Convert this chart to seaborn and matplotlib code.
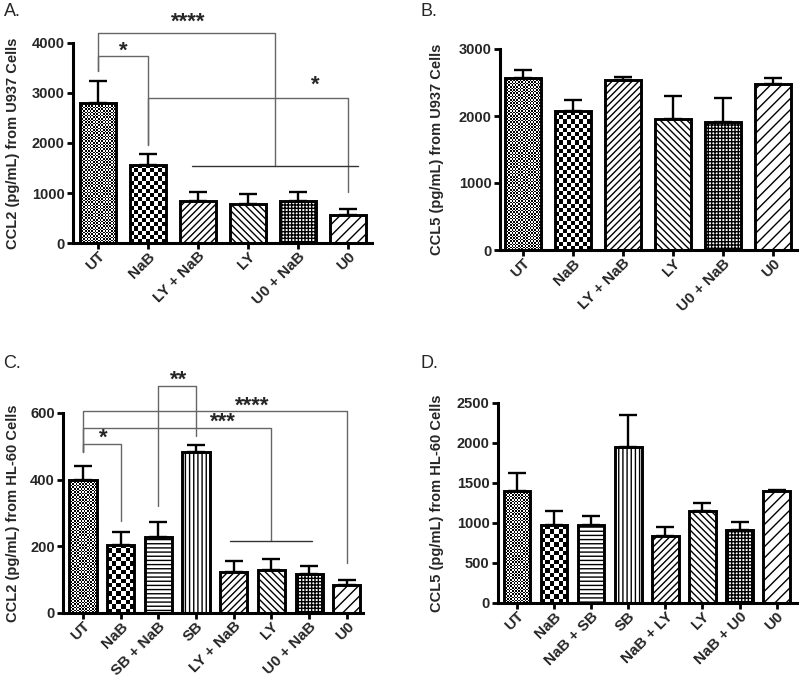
import numpy as np
import matplotlib
matplotlib.use('Agg')
import matplotlib.pyplot as plt
import seaborn as sns

# ---------------- data ----------------
a_cats = ['UT', 'NaB', 'LY + NaB', 'LY', 'U0 + NaB', 'U0']
a_mean = [2800, 1567, 847, 773, 847, 553]
a_err = [433, 220, 180, 207, 180, 127]
a_ticks = [0, 1000, 2000, 3000, 4000]

b_cats = ['UT', 'NaB', 'LY + NaB', 'LY', 'U0 + NaB', 'U0']
b_mean = [2566, 2068, 2536, 1958, 1909, 2477]
b_err = [115, 169, 40, 334, 353, 84]
b_ticks = [0, 1000, 2000, 3000]

c_cats = ['UT', 'NaB', 'SB + NaB', 'SB', 'LY + NaB', 'LY', 'U0 + NaB', 'U0']
c_mean = [398, 205, 228, 482, 122, 128, 118, 84]
c_err = [42, 39, 44, 23, 34, 34, 23, 14]
c_ticks = [0, 200, 400, 600]

d_cats = ['UT', 'NaB', 'NaB + SB', 'SB', 'NaB + LY', 'LY', 'NaB + U0', 'U0']
d_mean = [1396, 971, 979, 1950, 833, 1146, 917, 1396]
d_err = [229, 175, 104, 400, 113, 104, 91, 12]
d_ticks = [0, 500, 1000, 1500, 2000, 2500]

# significance brackets: (x_left, x_right, y_top, y_left_end, y_right_end)
a_brackets = [(0, 1, 3733, 3433, 1967), (0, 3.54, 4200, 3433, 1533), (1, 5, 2900, 1967, 1013)]
a_lines = [(1.87, 5.19, 1533)]
a_stars = [('*', 0.5, 3733, 0), ('****', 1.8, 4200, 4), ('*', 4.34, 2900, 5)]

c_brackets = [(0, 1, 508, 482, 277), (0, 5, 555, 482, 215), (0, 7, 605, 482, 150), (2, 3, 682, 320, 530)]
c_lines = [(3.9, 6.07, 215)]
c_stars = [('*', 0.55, 508, 0), ('***', 3.72, 555, 0), ('****', 4.5, 605, 0), ('**', 2.53, 682, 0)]

# ---------------- style ----------------
sns.set_theme(style='ticks')
plt.rcParams['font.family'] = ['Liberation Sans', 'DejaVu Sans']
plt.rcParams['hatch.linewidth'] = 1.0

hatches = {
    'LY + NaB': '/////', 'NaB + LY': '/////',
    'LY': '\\\\\\\\\\',
    'U0 + NaB': '+++++', 'NaB + U0': '+++++',
    'U0': '///',
    'SB + NaB': '----', 'NaB + SB': '----',
    'SB': '||||',
}
checkers = {'UT': 1.6, 'NaB': 4.2}

fig = plt.figure(figsize=(8.0, 6.79), dpi=100)


def checker_fill(ax, bar, cell):
    x0, y0 = bar.get_x(), bar.get_y()
    w, h = bar.get_width(), bar.get_height()
    p0 = ax.transData.transform((x0, y0))
    p1 = ax.transData.transform((x0 + w, y0 + h))
    nx = max(1, int(round((p1[0] - p0[0]) / cell)))
    ny = max(1, int(round((p1[1] - p0[1]) / cell)))
    arr = np.add.outer(np.arange(ny), np.arange(nx)) % 2
    im = ax.imshow(arr, cmap='gray', vmin=0, vmax=1, extent=(x0, x0 + w, y0, y0 + h),
                   origin='lower', aspect='auto', interpolation='nearest', zorder=1.5)
    im.set_clip_path(bar)


def panel(rect, cats, mean, err, ticks, xlim, ylabel, letter, letter_xy, ylab_x):
    ax = fig.add_axes(rect)
    sns.barplot(x=cats, y=mean, color='white', edgecolor='black', linewidth=2.1,
                width=0.72, errorbar=None, ax=ax, saturation=1)
    ax.set_xlim(*xlim)
    ax.set_ylim(0, ticks[-1])
    bars = list(ax.patches)
    xs = [b.get_x() + b.get_width() / 2 for b in bars]
    for b, c in zip(bars, cats):
        b.set_zorder(2)
        if c in checkers:
            b.set_facecolor('none')
            checker_fill(ax, b, checkers[c])
        else:
            b.set_facecolor('white')
            b.set_hatch(hatches[c])
    ax.set_xlim(*xlim)
    ax.set_ylim(0, ticks[-1])
    ax.errorbar(xs, mean, yerr=[np.zeros(len(err)), err], fmt='none', ecolor='black',
                elinewidth=1.7, capsize=6.5, capthick=1.7, zorder=3)
    sns.despine(ax=ax)
    for s in ['left', 'bottom']:
        ax.spines[s].set_linewidth(2.2)
        ax.spines[s].set_color('black')
    ax.set_yticks(ticks)
    ax.set_yticklabels([str(t) for t in ticks], fontsize=10.5, fontweight='bold')
    ax.set_xticks(range(len(cats)))
    ax.set_xticklabels(cats, rotation=45, ha='right', va='top', rotation_mode='anchor',
                       fontsize=11, fontweight='bold')
    ax.tick_params(axis='both', direction='out', length=4, width=2, color='black', pad=2)
    ax.tick_params(axis='x', pad=0.5)
    ax.set_ylabel(ylabel, fontsize=10.5, fontweight='bold')
    ax.yaxis.set_label_coords((ylab_x - rect[0] * 800) / (rect[2] * 800), 0.5)
    ax.set_xlabel('')
    ax.grid(False)
    ax.set_facecolor('white')
    fig.text(letter_xy[0] / 800, 1 - letter_xy[1] / 679, letter, fontsize=13,
             ha='left', va='center')
    return ax


def add_sig(ax, brackets, lines, stars):
    for (x1, x2, y, y1, y2) in brackets:
        ax.plot([x1, x1, x2, x2], [y1, y, y, y2], color='#666666', lw=1.0,
                clip_on=False, zorder=4)
    for (x1, x2, y) in lines:
        ax.plot([x1, x2], [y, y], color='#333333', lw=1.0, clip_on=False, zorder=4)
    for (lab, sx, y, off) in stars:
        ax.annotate(lab, (sx, y), xytext=(0, off), textcoords='offset points',
                    ha='center', va='baseline', fontsize=16, fontweight='bold',
                    annotation_clip=False)


axA = panel([73 / 800, 1 - 243 / 679, 299 / 800, 200 / 679], a_cats, a_mean, a_err, a_ticks,
            (-0.5, 5.48), 'CCL2 (pg/mL) from U937 Cells', 'A.', (4, 12), 20)
add_sig(axA, a_brackets, a_lines, a_stars)

axB = panel([500 / 800, 1 - 250 / 679, 297 / 800, 201 / 679], b_cats, b_mean, b_err, b_ticks,
            (-0.46, 5.48), 'CCL5 (pg/mL) from U937 Cells', 'B.', (421, 12), 444)

axC = panel([63 / 800, 1 - 613 / 679, 300 / 800, 200 / 679], c_cats, c_mean, c_err, c_ticks,
            (-0.53, 7.43), 'CCL2 (pg/mL) from HL-60 Cells', 'C.', (3, 363), 20)
add_sig(axC, c_brackets, c_lines, c_stars)

axD = panel([498 / 800, 1 - 603 / 679, 299 / 800, 200 / 679], d_cats, d_mean, d_err, d_ticks,
            (-0.51, 7.55), 'CCL5 (pg/mL) from HL-60 Cells', 'D.', (421, 364), 444)

fig.savefig('out.png', dpi=100, facecolor='white')
